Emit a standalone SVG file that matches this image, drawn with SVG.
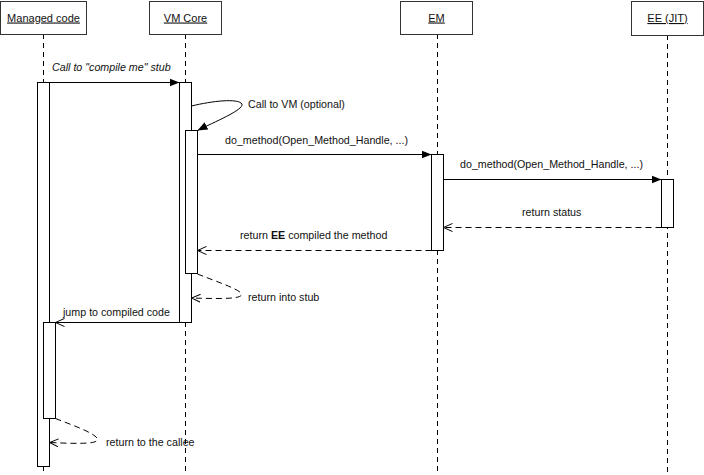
<svg xmlns="http://www.w3.org/2000/svg" width="704" height="475" viewBox="0 0 704 475">
  <defs>
    <marker id="filled" viewBox="0 0 10 10" refX="10" refY="5" markerWidth="10" markerHeight="10" markerUnits="userSpaceOnUse" orient="auto">
      <path d="M0,1 L10,5 L0,9 Z" fill="#000"/>
    </marker>
    <marker id="open" viewBox="0 0 10 10" refX="10" refY="5" markerWidth="9" markerHeight="9" markerUnits="userSpaceOnUse" orient="auto">
      <path d="M0,0.5 L10,5 L0,9.5" fill="none" stroke="#000" stroke-width="1.1"/>
    </marker>
  </defs>
  <style>
    text { font-family: "Liberation Sans", Arial, sans-serif; font-size: 10.7px; fill: #111; }
    .head { fill: #fff; stroke: #333; stroke-width: 1; }
    .title { text-anchor: middle; text-decoration: underline; font-size: 11px; }
    .life { stroke: #000; stroke-width: 1; stroke-dasharray: 5 4; fill: none; }
    .act { fill: #fff; stroke: #000; stroke-width: 1; }
    .msg { stroke: #000; stroke-width: 1; fill: none; }
    .ret { stroke: #000; stroke-width: 1; fill: none; stroke-dasharray: 6 4; }
  </style>
  <rect width="704" height="475" fill="#fff"/>

  <!-- lifelines -->
  <g id="lifelines">
    <line class="life" x1="43.5" y1="34" x2="43.5" y2="475"/>
    <line class="life" x1="185.5" y1="34" x2="185.5" y2="475"/>
    <line class="life" x1="437.5" y1="34" x2="437.5" y2="475"/>
    <line class="life" x1="667.5" y1="35" x2="667.5" y2="475"/>
  </g>

  <!-- participants -->
  <g id="managed-code">
    <rect class="head" x="0.5" y="1.5" width="86" height="33"/>
    <text class="title" x="43.5" y="21.5">Managed code</text>
    <rect class="act" x="37.5" y="82.5" width="12" height="384"/>
    <rect class="act" x="43.5" y="322.5" width="12" height="96"/>
  </g>
  <g id="vm-core">
    <rect class="head" x="149.5" y="1.5" width="72" height="33"/>
    <text class="title" x="185.5" y="21.5">VM Core</text>
    <rect class="act" x="179.5" y="82.5" width="12" height="240"/>
    <rect class="act" x="185.5" y="130.5" width="12" height="143"/>
  </g>
  <g id="em">
    <rect class="head" x="400.5" y="1.5" width="72" height="33"/>
    <text class="title" x="436.5" y="21.5">EM</text>
    <rect class="act" x="431.5" y="154.5" width="12" height="96"/>
  </g>
  <g id="ee-jit">
    <rect class="head" x="631.5" y="1.5" width="72" height="34"/>
    <text class="title" x="667.5" y="22">EE (JIT)</text>
    <rect class="act" x="661.5" y="179.5" width="12" height="48"/>
  </g>

  <!-- messages -->
  <g id="connectors">
    <line class="msg" x1="49.5" y1="82.5" x2="179.5" y2="82.5" marker-end="url(#filled)"/>
    <path class="msg" d="M191.5,106 C212,101 238,98 242,104 C244,110 214,122 197.5,130.5" marker-end="url(#filled)"/>
    <line class="msg" x1="197.5" y1="154.5" x2="431.5" y2="154.5" marker-end="url(#filled)"/>
    <line class="msg" x1="443.5" y1="179.5" x2="661.5" y2="179.5" marker-end="url(#filled)"/>
    <line class="ret" x1="661.5" y1="227.5" x2="443.5" y2="227.5" marker-end="url(#open)"/>
    <line class="ret" x1="431.5" y1="250.5" x2="197.5" y2="250.5" marker-end="url(#open)"/>
    <path class="ret" d="M197.5,274 C215,281 236,288 241,293 C245,299 225,299 191.5,298" marker-end="url(#open)"/>
    <line class="msg" x1="179.5" y1="322.5" x2="55.5" y2="322.5" marker-end="url(#open)"/>
    <path class="ret" d="M55.5,418.5 C72,425 92,432 97,438 C101,444 82,444 49.5,442.5" marker-end="url(#open)"/>
  </g>

  <!-- message labels -->
  <g id="labels">
    <text x="52" y="71" font-style="italic">Call to "compile me" stub</text>
    <text x="248" y="108">Call to VM (optional)</text>
    <text x="225" y="144">do_method(Open_Method_Handle, ...)</text>
    <text x="460" y="168">do_method(Open_Method_Handle, ...)</text>
    <text x="522" y="216">return status</text>
    <text x="240" y="239">return <tspan font-weight="bold">EE</tspan> compiled the method</text>
    <text x="248" y="301">return into stub</text>
    <text x="63" y="316">jump to compiled code</text>
    <text x="106" y="446">return to the callee</text>
  </g>
</svg>
